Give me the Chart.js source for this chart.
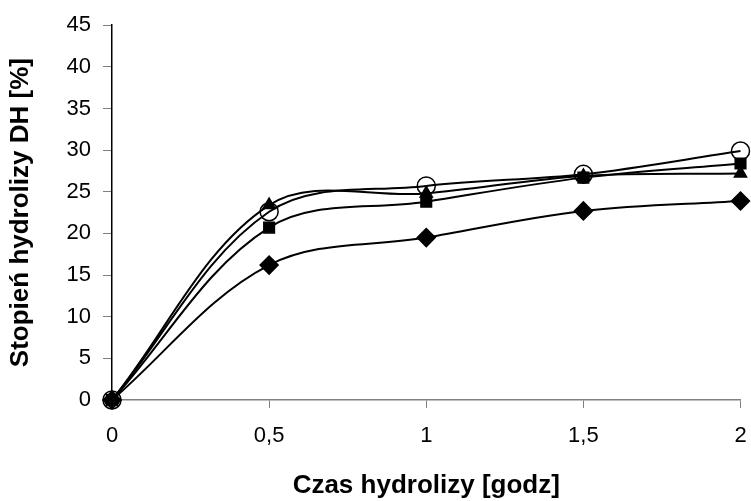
<!DOCTYPE html>
<html>
<head>
<meta charset="utf-8">
<script src="https://cdn.jsdelivr.net/npm/chart.js@4/dist/chart.umd.min.js"></script>
<style>
  body { margin: 0; background: #fff; }
  canvas { display: block; }
</style>
</head>
<body>
<canvas id="dhChart" width="751" height="501"></canvas>
<script>
// czas hydrolizy [godz]
const czas = [0, 0.5, 1, 1.5, 2];

// stopień hydrolizy DH [%]
const seriaRomb = [0, 16.2, 19.5, 22.7, 23.9];
const seriaKwadrat = [0, 20.7, 23.8, 26.7, 28.4];
const seriaTrojkat = [0, 23.4, 24.8, 26.9, 27.2];
const seriaKolo = [0, 22.6, 25.7, 27.1, 29.9];

const xTicks = [0, 0.5, 1, 1.5, 2];
const yMax = 45;
const yStep = 5;

function punkty(values) {
  return czas.map((x, i) => ({ x: x, y: values[i] }));
}

function seria(values, style, radius, fill) {
  return {
    data: punkty(values),
    borderColor: "#000",
    borderWidth: 2,
    pointStyle: style,
    pointRadius: radius,
    pointBackgroundColor: fill,
    pointBorderColor: "#000",
    pointBorderWidth: 1.5,
    tension: 0.35,
    clip: false,
  };
}

const ctx = document.getElementById("dhChart");

new Chart(ctx, {
  type: "line",
  data: {
    datasets: [
      seria(seriaRomb, "rectRot", 9, "#000"),
      seria(seriaKwadrat, "rect", 7.5, "#000"),
      seria(seriaTrojkat, "triangle", 7, "#000"),
      seria(seriaKolo, "circle", 9, "rgba(0,0,0,0)"),
    ],
  },
  options: {
    responsive: false,
    animation: false,
    layout: {
      padding: { top: 25, right: 7, left: 0, bottom: 0 },
    },
    plugins: {
      legend: { display: false },
      tooltip: { enabled: false },
    },
    scales: {
      x: {
        type: "linear",
        min: 0,
        max: 2,
        afterFit: (scale) => {
          scale.height = 101;
          scale.paddingLeft = 0;
          scale.paddingRight = 0;
        },
        afterBuildTicks: (scale) => {
          scale.ticks = xTicks.map((v) => ({ value: v }));
        },
        ticks: {
          color: "#000",
          padding: 15,
          font: { family: "'Liberation Sans', Arial", size: 22 },
          callback: (value) => String(value).replace(".", ","),
        },
        grid: {
          drawOnChartArea: false,
          color: "#808080",
          tickLength: 8,
        },
        border: { color: "#808080", width: 1.5 },
        title: {
          display: true,
          text: "Czas hydrolizy [godz]",
          color: "#000",
          padding: { top: 0, bottom: 0 },
          font: { family: "'Liberation Sans', Arial", size: 26, weight: "bold", lineHeight: 1.15 },
        },
      },
      y: {
        min: 0,
        max: yMax,
        afterFit: (scale) => {
          scale.width = 112;
        },
        ticks: {
          stepSize: yStep,
          color: "#000",
          padding: 12,
          font: { family: "'Liberation Sans', Arial", size: 22 },
        },
        grid: {
          drawOnChartArea: false,
          color: "#808080",
          tickLength: 9,
        },
        border: { color: "#000", width: 1.5 },
        title: {
          display: true,
          text: "Stopień hydrolizy DH [%]",
          color: "#000",
          padding: { top: 6, bottom: 0 },
          font: { family: "'Liberation Sans', Arial", size: 26, weight: "bold", lineHeight: 1.15 },
        },
      },
    },
  },
});
</script>
</body>
</html>
